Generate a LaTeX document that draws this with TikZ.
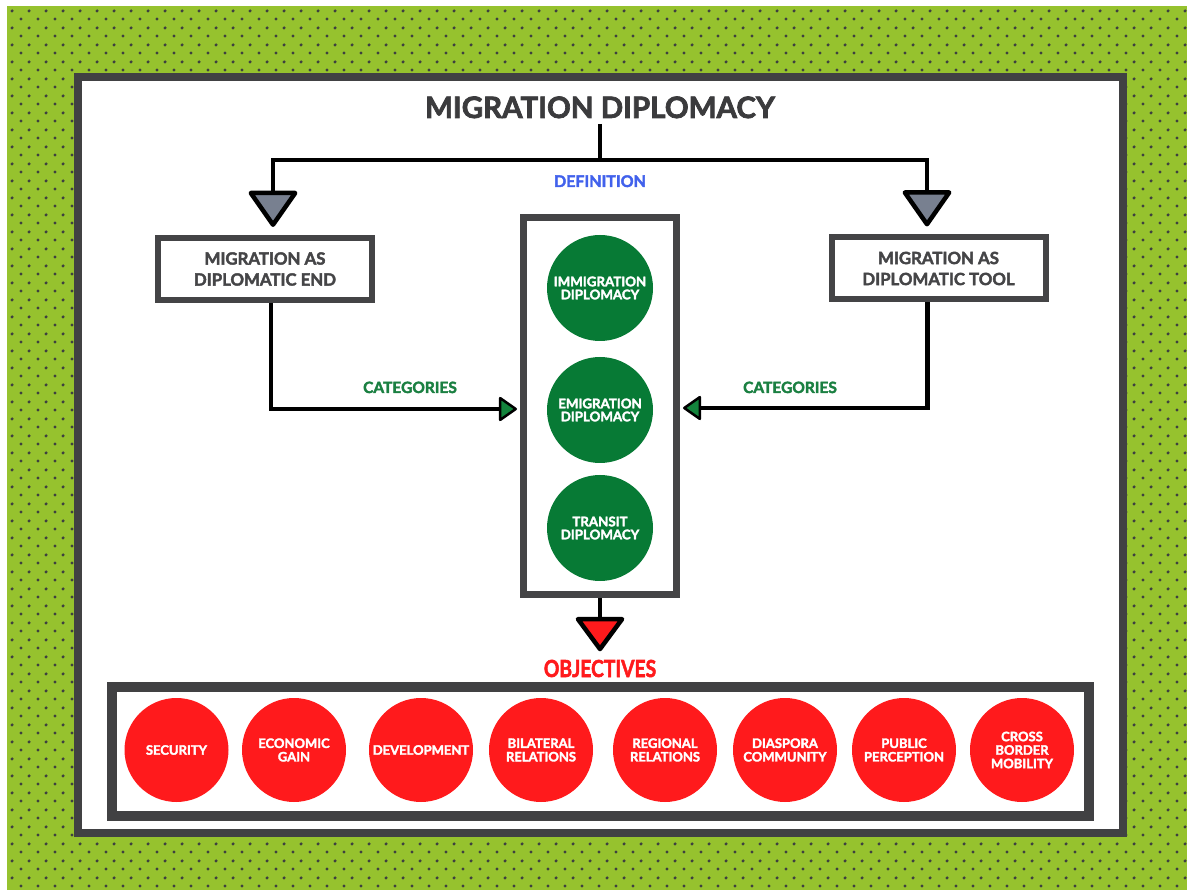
\documentclass[tikz,border=0pt]{standalone}
\usepackage{fontspec}
\setmainfont{Lato}[BoldFeatures={FakeBold=2.4}]
\usepackage{graphicx}
\usetikzlibrary{arrows.meta,patterns}
\definecolor{bggreen}{HTML}{96C22E}
\definecolor{dotgray}{HTML}{3E4040}
\definecolor{framegray}{HTML}{414143}
\definecolor{boxgray}{HTML}{444446}
\definecolor{titlegray}{HTML}{3B3B3D}
\definecolor{boxtext}{HTML}{454547}
\definecolor{defblue}{HTML}{4161EC}
\definecolor{catgreen}{HTML}{1B8042}
\definecolor{cgreen}{HTML}{077A35}
\definecolor{tipgreen}{HTML}{13843C}
\definecolor{arrowgray}{HTML}{788090}
\definecolor{cred}{HTML}{FF1A1C}
\pgfdeclarepatternformonly{mydots}{\pgfqpoint{0pt}{0pt}}{\pgfqpoint{17pt}{17pt}}{\pgfqpoint{17pt}{17pt}}{%
  \pgfpathcircle{\pgfqpoint{4.25pt}{4.25pt}}{1.8pt}%
  \pgfpathcircle{\pgfqpoint{12.75pt}{12.75pt}}{1.8pt}%
  \pgfusepath{fill}}
\begin{document}
\begin{tikzpicture}[x=1pt,y=-1pt,
  conn/.style={draw=black,line width=4.5pt},
  boxnode/.style={draw=boxgray,line width=6pt,fill=white,text=boxtext,align=center,
    font=\bfseries\fontsize{16.8}{21}\selectfont,minimum width=214pt,minimum height=62pt,inner sep=0pt},
  gcirc/.style={circle,fill=cgreen,minimum size=106pt,inner sep=0pt,text=white,align=center,
    font=\bfseries\fontsize{13.3}{13}\selectfont},
  rcirc/.style={circle,fill=cred,minimum size=104pt,inner sep=0pt,text=white,align=center,
    font=\bfseries\fontsize{13}{13.5}\selectfont},
  panel/.style={draw=boxgray,inner sep=0pt},
  cattext/.style={text=catgreen,anchor=base,font=\bfseries\fontsize{15.5}{16}\selectfont},
  graytip/.style={-{Triangle[length=38pt,width=52pt,fill=arrowgray,round]}},
  greentip/.style={-{Triangle[length=19pt,width=26pt,fill=tipgreen,round,line width=2.5pt 0 1]}},
  redtip/.style={-{Triangle[length=36pt,width=52pt,fill=cred,round]}}
]
\useasboundingbox (0,0) rectangle (1187,890);
% background
\fill[white] (0,0) rectangle (1187,890);
\fill[bggreen] (7,6) rectangle (1187,890);
\fill[pattern=mydots,pattern color=dotgray] (7,6) rectangle (1187,890);
\draw[line width=8pt,draw=framegray,fill=white] (78,77) rectangle (1123,833);

% title
\node[anchor=base,text=titlegray,font=\bfseries\fontsize{29.5}{30}\selectfont] (title) at (600,118) {MIGRATION DIPLOMACY};
\node[anchor=base,text=defblue,font=\bfseries\fontsize{16}{16}\selectfont] (def) at (600,187) {DEFINITION};

% boxes
\node[boxnode] (L) at (265,269) {MIGRATION AS\\DIPLOMATIC END};
\node[boxnode] (R) at (938.5,268.5) {MIGRATION AS\\DIPLOMATIC TOOL};

% center column
\node[panel,line width=7pt,minimum width=153pt,minimum height=377pt] (C) at (600,406) {};
\node[gcirc] (g1) at (600,288) {IMMIGRATION\\DIPLOMACY};
\node[gcirc] (g2) at (600,410) {EMIGRATION\\DIPLOMACY};
\node[gcirc] (g3) at (600,528) {TRANSIT\\DIPLOMACY};

% connectors from title
\coordinate (split) at (600,160);
\draw[conn] ([yshift=-2pt]title.south) -- (split);
\draw[conn,graytip] (split) -| ([xshift=8pt,yshift=8pt]L.north);
\draw[conn,graytip] (split) -| ([xshift=-11.5pt,yshift=8pt]R.north);

% categories
\node[cattext] (cat1) at (410,393) {CATEGORIES};
\node[cattext] (cat2) at (790,393) {CATEGORIES};
\draw[conn,greentip] ([xshift=6pt]L.south) |- ([xshift=-3pt,yshift=-3pt]C.west);
\draw[conn,greentip] ([xshift=-11pt]R.south) |- ([xshift=3pt,yshift=-2pt]C.east);

% objectives
\node[anchor=base,text=cred,font=\bfseries\fontsize{23.5}{24}\selectfont] (obj) at (600,677) {\scalebox{0.82}[1]{OBJECTIVES}};
\draw[conn,redtip] (C.south) -- ([yshift=5pt]obj.north);

\node[panel,draw=framegray,line width=10pt,minimum width=977pt,minimum height=129pt] (B) at (600.5,751.5) {};
\node[rcirc] (o1) at (176.5,750) {SECURITY};
\node[rcirc] (o2) at (294,750) {ECONOMIC\\GAIN};
\node[rcirc] (o3) at (421,750) {DEVELOPMENT};
\node[rcirc] (o4) at (541,750) {BILATERAL\\RELATIONS};
\node[rcirc] (o5) at (665,750) {REGIONAL\\RELATIONS};
\node[rcirc] (o6) at (785,750) {DIASPORA\\COMMUNITY};
\node[rcirc] (o7) at (904,750) {PUBLIC\\PERCEPTION};
\node[rcirc] (o8) at (1022,750) {CROSS\\BORDER\\MOBILITY};
\end{tikzpicture}
\end{document}
